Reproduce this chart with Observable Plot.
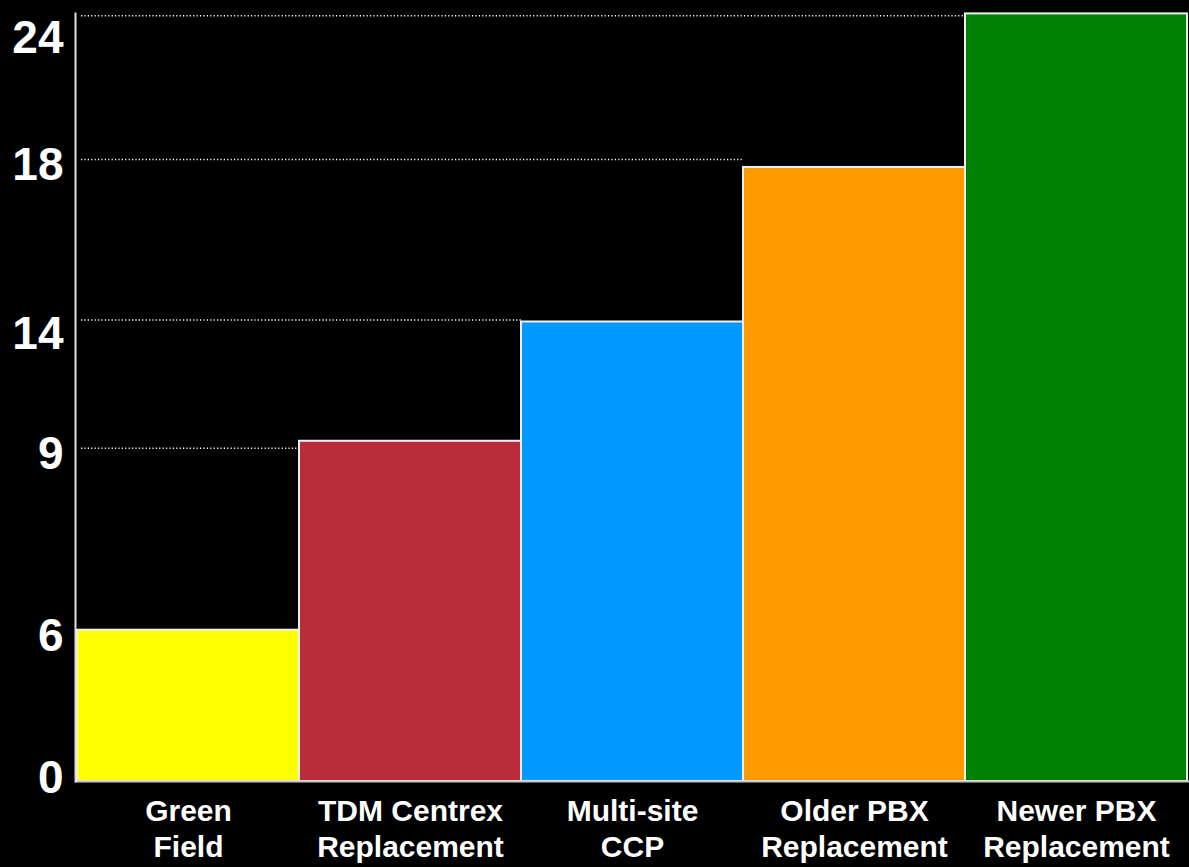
<!DOCTYPE html>
<html>
<head>
<meta charset="utf-8">
<script src="https://cdn.jsdelivr.net/npm/d3@7"></script>
<script src="https://cdn.jsdelivr.net/npm/@observablehq/plot@0.6"></script>
<style>
  html, body { margin: 0; padding: 0; background: #000; }
  #chart svg { display: block; background: #000; }
</style>
</head>
<body>
<div id="chart"></div>
<script>
// Categories (line breaks as in the picture)
const categories = [
  "Green\nField",
  "TDM Centrex\nReplacement",
  "Multi-site\nCCP",
  "Older PBX\nReplacement",
  "Newer PBX\nReplacement"
];
// Bar values, read against the chart's own (non-uniform) axis
const values = [6, 9.27, 13.92, 17.8, 24.08];
const colors = ["#FFFF00", "#BA2C3A", "#0099FF", "#FF9900", "#008000"];
// Axis tick labels (the axis is not evenly spaced)
const yTicks = [0, 6, 9, 14, 18, 24];
// Dotted gridlines and the bar each one runs up to
const gridTicks = [9, 14, 18, 24];
const gridEnds = [categories[0], categories[1], categories[2], categories[3]];

const data = categories.map((c, i) => ({category: c, value: values[i], color: colors[i]}));
const grid = gridTicks.map((v, i) => ({value: v, end: gridEnds[i]}));

const W = 1189, H = 867;
const mTop = 13, mBottom = 86, mLeft = 75, mRight = 0;
const plotH = H - mTop - mBottom;
// piecewise positions of the axis stops as fractions of the plot height (from bottom)
const stopFrac = [0, 0.197, 0.434, 0.601, 0.810, 0.997];
const yRange = stopFrac.map(f => H - mBottom - f * plotH);

const axisStyle = {tickSize: 0, tickPadding: 12, fontSize: 46, fontWeight: "bold", label: null, tickFormat: d => String(d)};

const chart = Plot.plot({
  width: W,
  height: H,
  marginTop: mTop,
  marginBottom: mBottom,
  marginLeft: mLeft,
  marginRight: mRight,
  style: {background: "#000", color: "#fff", fontFamily: "'Liberation Sans', Arial, sans-serif"},
  x: {domain: categories, padding: 0, axis: null},
  y: {type: "linear", domain: yTicks, range: yRange, axis: null},
  marks: [
    Plot.ruleY(grid, {y: "value", x1: () => categories[0], x2: "end", stroke: "#fff", strokeWidth: 1.5, strokeDasharray: "1.2,2.2", insetLeft: 4}),
    Plot.barY(data, {x: "category", y: "value", fill: "color", stroke: "#f0f0f0", strokeWidth: 2}),
    Plot.ruleY([0], {stroke: "#c8c8c8", strokeWidth: 2}),
    Plot.frame({anchor: "left", stroke: "#e0e0e0", strokeWidth: 2}),
    Plot.axisY({...axisStyle, ticks: yTicks.filter(t => t === 24), dy: 22}),
    Plot.axisY({...axisStyle, ticks: yTicks.filter(t => t === 14), dy: 14}),
    Plot.axisY({...axisStyle, ticks: yTicks.filter(t => t === 6 || t === 9 || t === 18), dy: 6}),
    Plot.axisY({...axisStyle, ticks: yTicks.filter(t => t === 0), dy: -3}),
    Plot.axisX({tickSize: 0, tickPadding: 14, fontSize: 30, fontWeight: "bold", lineHeight: 1.2, label: null})
  ]
});

document.getElementById("chart").appendChild(chart);
</script>
</body>
</html>
